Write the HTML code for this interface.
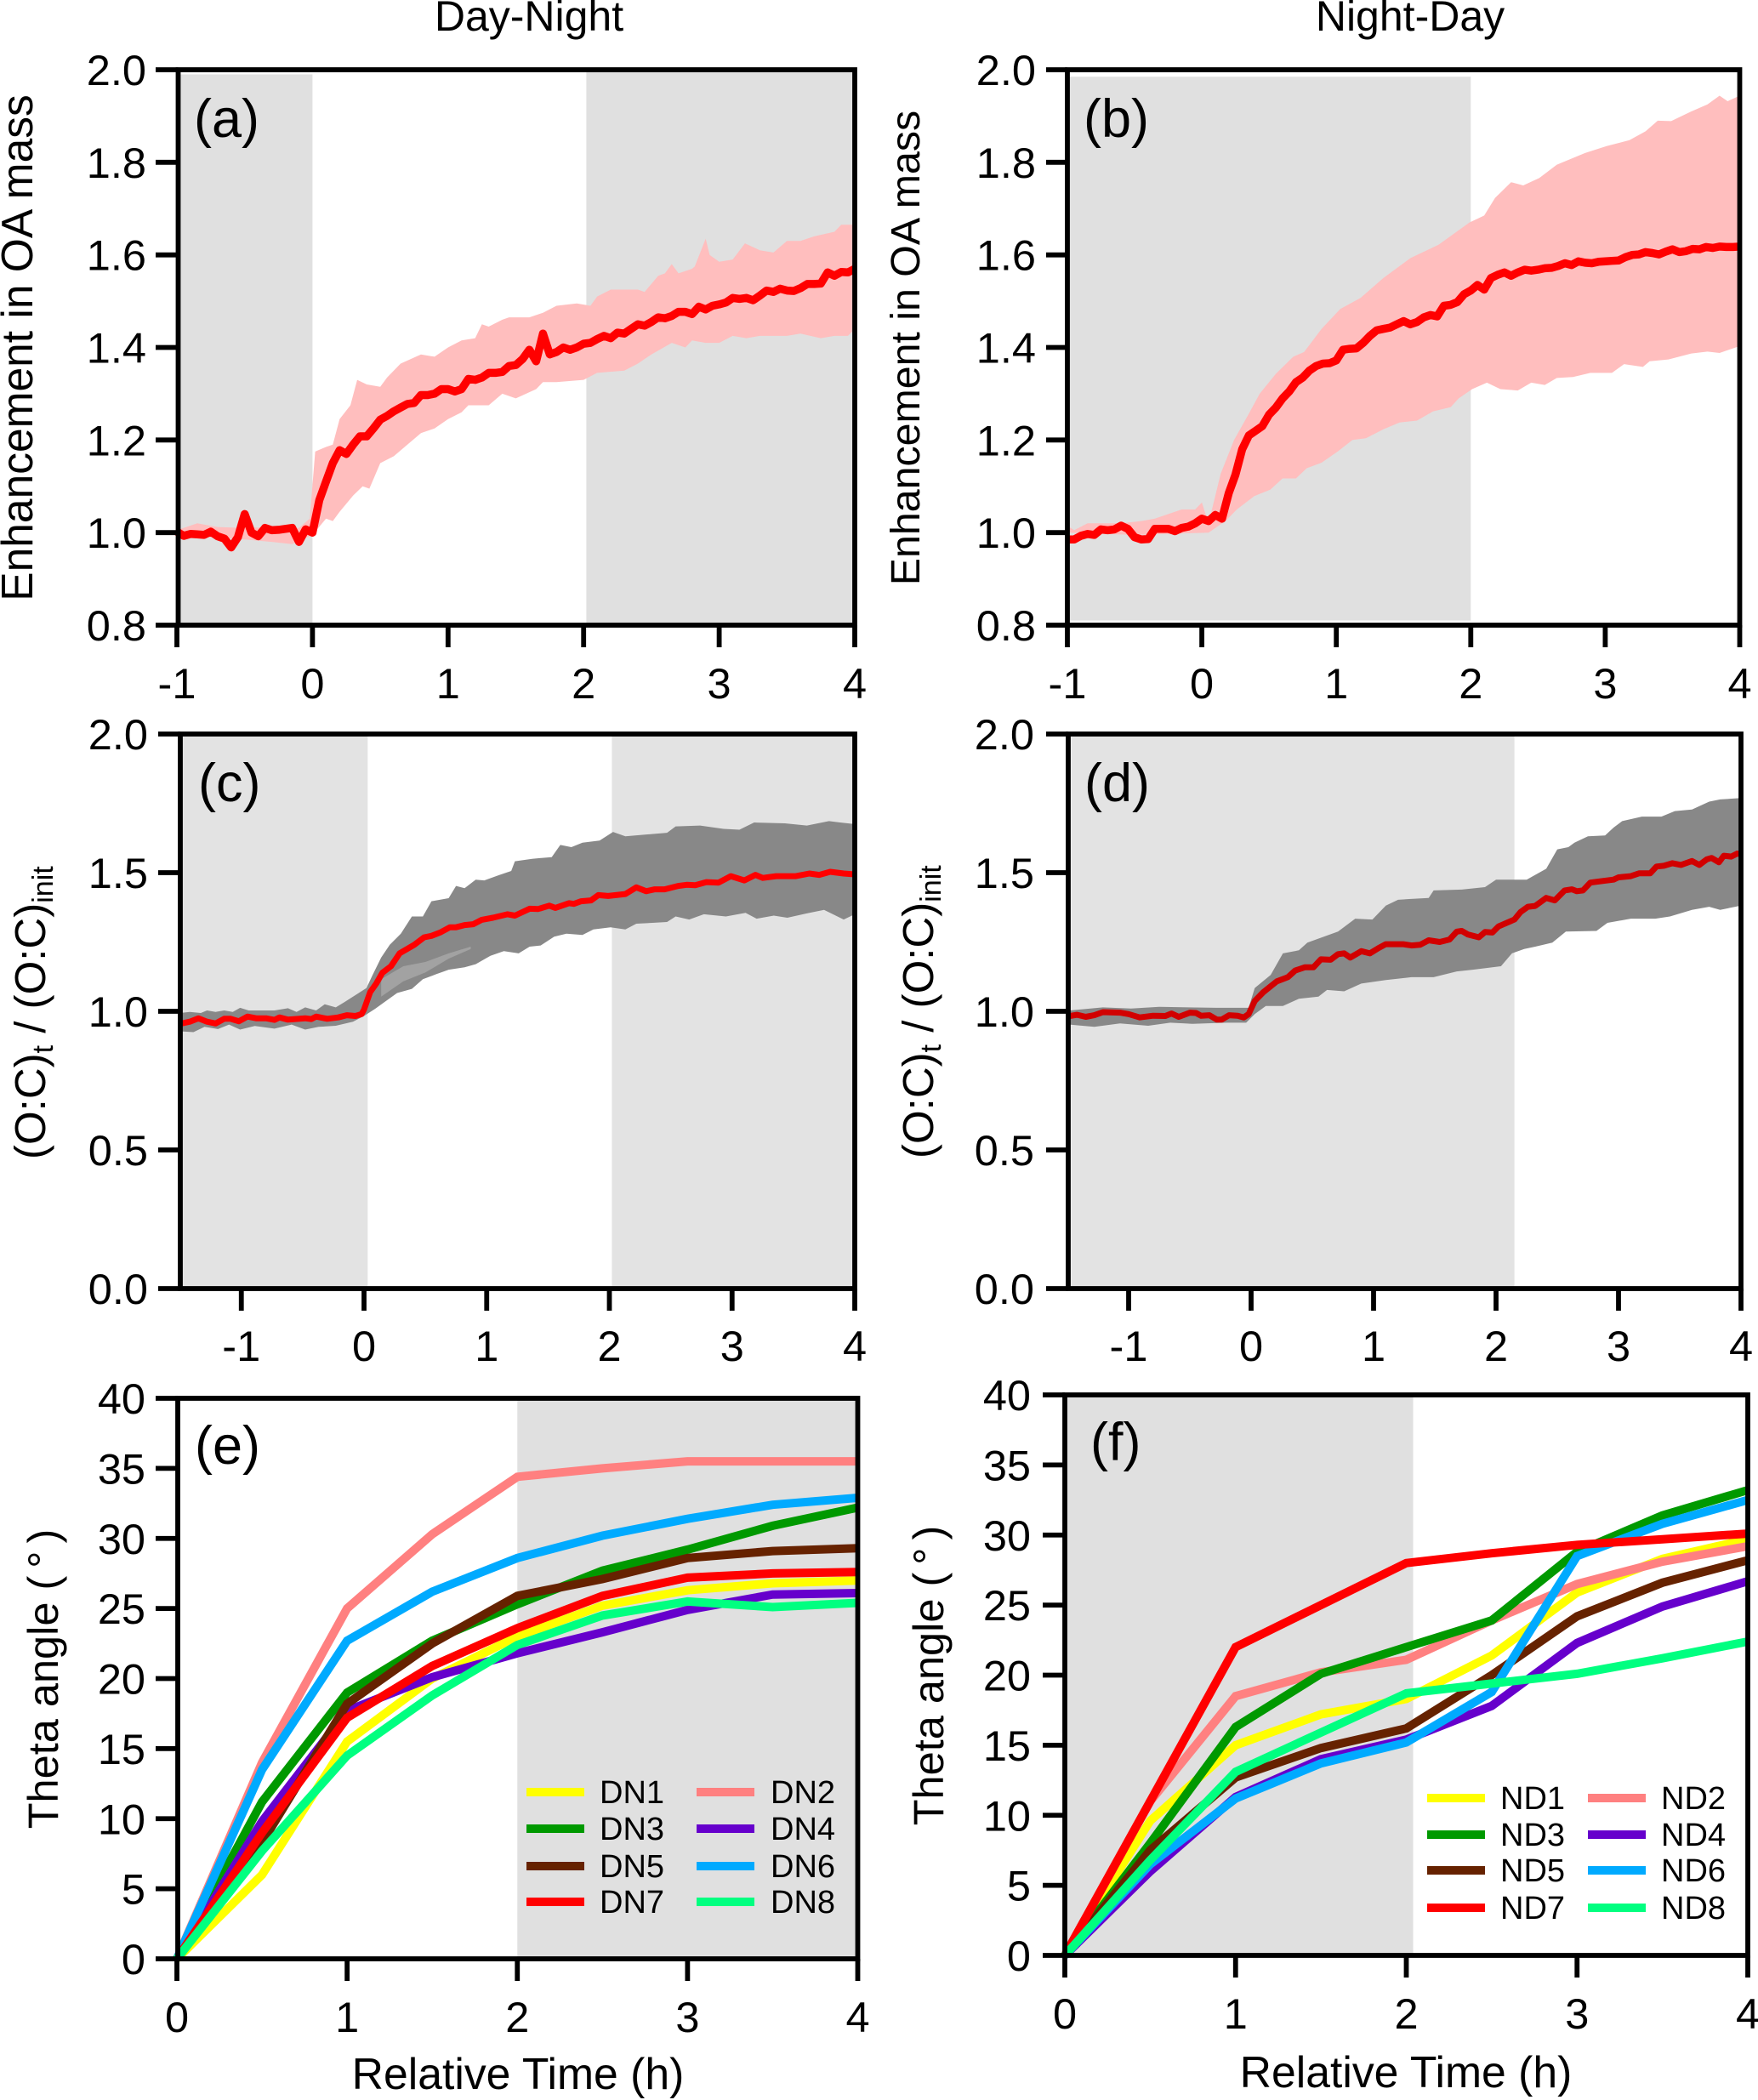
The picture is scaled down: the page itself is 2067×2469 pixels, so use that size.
<!DOCTYPE html>
<html lang="en">
<head>
<meta charset="utf-8">
<title>Day-Night and Night-Day chamber experiments</title>
<style>
html,body{margin:0;padding:0;background:#fff;}
svg{display:block;font-family:"Liberation Sans",Arial,sans-serif;fill:#000;}
</style>
</head>
<body>
<svg id="figure" xmlns="http://www.w3.org/2000/svg" width="2067" height="2469" viewBox="0 0 2067 2469">
  <rect width="2067" height="2469" fill="#fff"/>
  <g id="marks"></g>
  <g font-size="50">
    <text x="622" y="36" font-size="50" text-anchor="middle">Day-Night</text>
    <text x="1658" y="36" font-size="50" text-anchor="middle">Night-Day</text>

    <text transform="translate(38,409) rotate(-90)" text-anchor="middle" font-size="51.5">Enhancement in OA mass</text>
    <text transform="translate(1081,409) rotate(-90)" text-anchor="middle" font-size="48.3">Enhancement in OA mass</text>
    <text transform="translate(53,1363) rotate(-90)" font-size="51">(O:C)<tspan font-size="34" dy="9">t</tspan><tspan dy="-9"> / (O:C)</tspan><tspan font-size="34" dy="9">init</tspan></text>
    <text transform="translate(1097,1362) rotate(-90)" font-size="51">(O:C)<tspan font-size="34" dy="9">t</tspan><tspan dy="-9"> / (O:C)</tspan><tspan font-size="34" dy="9">init</tspan></text>
    <text transform="translate(68,1974) rotate(-90)" text-anchor="middle" font-size="50.5">Theta angle (<tspan dx="9">°</tspan><tspan dx="9">)</tspan></text>
    <text transform="translate(1109,1970) rotate(-90)" text-anchor="middle" font-size="50.5">Theta angle (<tspan dx="9">°</tspan><tspan dx="9">)</tspan></text>

    <text x="609" y="2456" text-anchor="middle" font-size="51.7">Relative Time (h)</text>
    <text x="1653" y="2454" text-anchor="middle" font-size="51.7">Relative Time (h)</text>

    <text x="228" y="161" font-size="63">(a)</text>
    <text x="1274" y="161" font-size="63">(b)</text>
    <text x="233" y="942" font-size="63">(c)</text>
    <text x="1275" y="942" font-size="63">(d)</text>
    <text x="229" y="1721" font-size="63">(e)</text>
    <text x="1282" y="1717" font-size="63">(f)</text>
  </g>
</svg>
<script>
/* ---------- Shared time grids ---------- */
const timeAB = [
-1,-.95,-.9,-.85,-.8,-.75,-.7,-.65,-.6,-.55,-.5,-.45,-.4,-.35,-.3,-.25,-.2,-.15,-.1,-.05,
0,.05,.1,.15,.2,.25,.3,.35,.4,.45,.5,.55,.6,.65,.7,.75,.8,.85,.9,.95,
1,1.05,1.1,1.15,1.2,1.25,1.3,1.35,1.4,1.45,1.5,1.55,1.6,1.65,1.7,1.75,1.8,1.85,1.9,1.95,
2,2.05,2.1,2.15,2.2,2.25,2.3,2.35,2.4,2.45,2.5,2.55,2.6,2.65,2.7,2.75,2.8,2.85,2.9,2.95,
3,3.05,3.1,3.15,3.2,3.25,3.3,3.35,3.4,3.45,3.5,3.55,3.6,3.65,3.7,3.75,3.8,3.85,3.9,3.95,4];
const timeEF = [0,.5,1,1.5,2,2.5,3,3.5,4];

/* ---------- Panel (a) ---------- */
const meanA = [
1.002,.993,.997,.996,.995,1.002,.992,.987,.968,.99,1.04,1.0,.992,1.01,1.005,1.006,1.008,1.01,.98,1.007,
1.0,1.07,1.11,1.15,1.178,1.17,1.19,1.208,1.208,1.225,1.244,1.252,1.262,1.27,1.278,1.28,1.297,1.297,1.3,1.31,
1.31,1.305,1.31,1.332,1.33,1.335,1.345,1.345,1.347,1.36,1.362,1.375,1.395,1.37,1.43,1.385,1.39,1.4,1.395,1.4,
1.408,1.41,1.418,1.425,1.42,1.432,1.43,1.44,1.45,1.447,1.455,1.465,1.463,1.468,1.477,1.477,1.472,1.488,1.482,1.49,
1.493,1.497,1.507,1.505,1.507,1.502,1.512,1.523,1.52,1.527,1.523,1.522,1.528,1.537,1.537,1.538,1.562,1.555,1.563,1.562,1.57];
const upperTimeA = [-1,-.85,-.7,-.5,-.3,-.1,-.02,.02,.1,.15,.2,.28,.33,.4,.5,.55,.65,.8,.9,1,1.1,1.2,1.25,1.3,1.4,1.45,1.6,1.7,1.8,1.95,2.05,2.1,2.2,2.4,2.45,2.55,2.6,2.65,2.7,2.8,2.82,2.9,2.93,3,3.1,3.19,3.3,3.4,3.5,3.6,3.7,3.85,3.9,4];
const upperA = [1.005,1.02,1.012,1.01,1.012,1.01,1.03,1.175,1.185,1.19,1.245,1.275,1.33,1.32,1.315,1.335,1.365,1.385,1.38,1.4,1.415,1.42,1.45,1.445,1.46,1.465,1.465,1.475,1.49,1.495,1.49,1.51,1.525,1.525,1.52,1.555,1.56,1.58,1.56,1.57,1.575,1.635,1.6,1.585,1.59,1.625,1.61,1.605,1.63,1.63,1.64,1.65,1.665,1.665];
const lowerTimeA = [-1,-.5,-.3,-.15,0,.1,.15,.2,.3,.37,.42,.5,.6,.7,.8,.9,1,1.1,1.15,1.3,1.4,1.5,1.65,1.7,1.8,2,2.1,2.3,2.4,2.5,2.65,2.75,2.8,2.9,3,3.1,3.2,3.3,3.5,3.6,3.75,3.85,3.95,4];
const lowerA = [.995,.985,.98,.975,.995,1.03,1.025,1.045,1.08,1.1,1.095,1.15,1.165,1.19,1.215,1.225,1.245,1.26,1.275,1.275,1.3,1.29,1.31,1.325,1.325,1.33,1.345,1.35,1.365,1.385,1.41,1.4,1.415,1.41,1.41,1.425,1.42,1.425,1.425,1.43,1.42,1.425,1.425,1.44];

/* ---------- Panel (b) ---------- */
const meanB = [
.985,.985,.993,.997,.995,1.007,1.005,1.007,1.015,1.008,.99,.985,.986,1.008,1.008,1.008,1.003,1.01,1.013,1.02,
1.03,1.025,1.038,1.03,1.085,1.125,1.18,1.21,1.22,1.23,1.255,1.27,1.29,1.305,1.325,1.335,1.35,1.36,1.365,1.366,
1.372,1.395,1.397,1.398,1.41,1.425,1.437,1.44,1.443,1.45,1.457,1.45,1.455,1.465,1.47,1.467,1.49,1.492,1.498,1.515,
1.523,1.535,1.525,1.55,1.557,1.562,1.555,1.562,1.568,1.566,1.568,1.571,1.572,1.576,1.582,1.578,1.586,1.583,1.582,1.585,
1.586,1.587,1.588,1.595,1.6,1.601,1.606,1.604,1.601,1.607,1.612,1.606,1.608,1.613,1.612,1.617,1.615,1.618,1.617,1.617,1.618];
const upperTimeB = [-1,-.95,-.85,-.75,-.6,-.45,-.35,-.25,-.15,-.05,0,.05,.14,.24,.35,.43,.55,.68,.76,.89,1.03,1.18,1.35,1.55,1.76,1.99,2.1,2.18,2.3,2.39,2.51,2.64,2.85,3.01,3.18,3.3,3.39,3.49,3.64,3.76,3.85,3.91,4];
const upperB = [1.015,1.005,1.02,1.02,1.02,1.025,1.03,1.04,1.05,1.05,1.065,1.02,1.127,1.2,1.257,1.3,1.343,1.38,1.39,1.44,1.483,1.507,1.55,1.593,1.622,1.67,1.685,1.723,1.757,1.75,1.766,1.795,1.82,1.835,1.848,1.867,1.89,1.889,1.91,1.925,1.944,1.932,1.944];
const lowerTimeB = [-1,-.5,.05,.18,.26,.39,.51,.6,.7,.78,.89,1.01,1.12,1.22,1.35,1.47,1.6,1.72,1.85,1.91,2.01,2.12,2.22,2.35,2.45,2.55,2.64,2.76,2.89,3.05,3.14,3.28,3.33,3.47,3.64,3.76,3.85,4];
const lowerB = [1,.995,1,1.026,1.05,1.079,1.093,1.117,1.117,1.139,1.151,1.175,1.2,1.204,1.223,1.238,1.242,1.262,1.271,1.29,1.31,1.324,1.31,1.307,1.324,1.319,1.334,1.336,1.345,1.345,1.364,1.358,1.37,1.374,1.387,1.391,1.388,1.403];

/* ---------- Panel (c) ---------- */
const meanTimeC = [-1.5,-1.42,-1.35,-1.28,-1.21,-1.14,-1.09,-1.02,-.95,-.88,-.8,-.73,-.69,-.62,-.48,-.43,-.39,-.3,-.21,-.14,-.07,-.02,0,.05,.1,.15,.22,.29,.41,.49,.55,.62,.7,.75,.82,.89,.96,1.05,1.17,1.23,1.35,1.42,1.51,1.56,1.67,1.71,1.77,1.85,1.91,1.99,2.13,2.22,2.3,2.37,2.45,2.56,2.63,2.7,2.79,2.89,2.99,3.1,3.19,3.25,3.36,3.52,3.63,3.71,3.8,3.91,4];
const meanC = [.955,.9625,.975,.9625,.956,.973,.973,.964,.981,.975,.975,.969,.978,.97,.975,.972,.981,.973,.978,.986,.983,.99,1.006,1.069,1.1,1.139,1.1625,1.209,1.24,1.267,1.272,1.284,1.303,1.303,1.311,1.314,1.33,1.3375,1.35,1.345,1.37,1.369,1.381,1.373,1.39,1.3875,1.397,1.4,1.419,1.416,1.423,1.447,1.433,1.44,1.44,1.452,1.456,1.455,1.466,1.464,1.4875,1.472,1.492,1.481,1.4875,1.4875,1.497,1.492,1.503,1.497,1.494];
const upperTimeC = [-1.5,-1.42,-1.33,-1.28,-1.21,-1.14,-1.07,-1.01,-.94,-.82,-.73,-.62,-.55,-.48,-.39,-.32,-.23,-.16,-.05,.02,.07,.14,.21,.3,.39,.48,.55,.69,.75,.82,.91,.98,1.1,1.2,1.23,1.37,1.53,1.6,1.69,1.78,1.92,2.03,2.13,2.47,2.54,2.74,2.93,3.06,3.18,3.43,3.61,3.79,3.88,4];
const upperC = [.994,.998,.994,1.003,.998,1.003,.998,1.0125,1.003,1.003,1.003,1.011,.998,1.014,1.003,1.025,1.014,1.033,1.064,1.084,1.131,1.194,1.24,1.28,1.342,1.342,1.397,1.408,1.452,1.444,1.475,1.472,1.491,1.506,1.541,1.55,1.556,1.6,1.592,1.608,1.616,1.647,1.631,1.644,1.667,1.67,1.658,1.655,1.681,1.678,1.67,1.686,1.681,1.675];
const lowerTimeC = [-1.5,-1.39,-1.3,-1.19,-1.1,-1.01,-.89,-.73,-.59,-.48,-.37,-.23,-.09,0,.09,.18,.27,.39,.48,.59,.69,.82,.91,1.03,1.14,1.26,1.35,1.44,1.55,1.65,1.78,1.87,2.01,2.13,2.22,2.35,2.47,2.54,2.65,2.77,2.95,3.11,3.2,3.34,3.45,3.61,3.75,3.91,4];
const lowerC = [.928,.925,.944,.936,.952,.934,.947,.9375,.952,.934,.944,.948,.9625,.983,1.009,1.0375,1.066,1.081,1.116,1.134,1.15,1.159,1.17,1.2,1.217,1.209,1.233,1.2375,1.269,1.28,1.275,1.295,1.303,1.295,1.316,1.319,1.322,1.342,1.331,1.35,1.342,1.355,1.334,1.345,1.3375,1.353,1.366,1.331,1.35];
const sliverTimeC = [.14,.32,.5,.69,.87];
const sliverUpperC = [1.116,1.1625,1.178,1.209,1.233];
const sliverLowerC = [1.053,1.108,1.14,1.19,1.225];

/* ---------- Panel (d) ---------- */
const meanTimeD = [-1.48,-1.42,-1.35,-1.28,-1.21,-1.07,-1,-.91,-.8,-.7,-.65,-.59,-.5,-.45,-.41,-.34,-.28,-.24,-.18,-.11,-.06,-.02,.03,.1,.21,.3,.36,.44,.51,.57,.65,.71,.76,.81,.9,.97,1.04,1.1,1.24,1.31,1.38,1.45,1.54,1.62,1.68,1.72,1.77,1.86,1.91,1.97,2.02,2.15,2.2,2.26,2.32,2.41,2.48,2.56,2.62,2.66,2.71,2.77,2.87,2.96,3,3.1,3.17,3.26,3.31,3.37,3.44,3.51,3.6,3.66,3.72,3.76,3.82,3.86,3.92,3.97,4];
const meanD = [.983,.9875,.98,.986,.997,.995,.99,.978,.984,.983,.992,.98,.995,.994,.984,.986,.97,.97,.986,.984,.978,.99,1.0375,1.069,1.108,1.123,1.147,1.159,1.159,1.1875,1.186,1.206,1.209,1.194,1.217,1.209,1.228,1.242,1.242,1.2375,1.24,1.256,1.25,1.259,1.2875,1.29,1.277,1.267,1.286,1.284,1.306,1.331,1.358,1.377,1.38,1.409,1.4,1.436,1.44,1.433,1.436,1.464,1.47,1.475,1.483,1.4875,1.498,1.498,1.522,1.525,1.534,1.528,1.542,1.528,1.548,1.553,1.5375,1.561,1.558,1.569,1.566];
const upperTimeD = [-1.48,-1.21,-.98,-.75,-.29,-.02,.03,.16,.26,.39,.46,.58,.71,.85,.99,1.1,1.2,1.29,1.45,1.49,1.72,1.91,2,2.13,2.25,2.41,2.5,2.59,2.64,2.75,2.89,2.96,3.03,3.19,3.35,3.46,3.6,3.74,3.83,4];
const upperD = [1.003,1.014,1.01,1.016,1.0125,1.0125,1.084,1.131,1.209,1.22,1.248,1.267,1.2875,1.334,1.331,1.381,1.402,1.405,1.409,1.436,1.439,1.448,1.475,1.475,1.475,1.514,1.584,1.592,1.608,1.631,1.634,1.6625,1.686,1.702,1.702,1.722,1.728,1.756,1.764,1.769];
const lowerTimeD = [-1.48,-1.28,-1.07,-.84,-.66,-.48,-.2,-.04,.03,.12,.26,.39,.55,.62,.76,.9,1.1,1.31,1.49,1.68,1.81,2.04,2.13,2.23,2.32,2.46,2.57,2.82,2.91,3.1,3.3,3.42,3.6,3.74,3.83,4];
const lowerD = [.952,.944,.956,.948,.959,.955,.959,.959,.99,1.019,1.019,1.045,1.053,1.077,1.072,1.1,1.1125,1.123,1.123,1.144,1.15,1.1625,1.209,1.225,1.233,1.248,1.2875,1.29,1.319,1.334,1.334,1.342,1.366,1.377,1.366,1.381];

/* ---------- Panel (e): theta angle, Day-Night ---------- */
const dn1 = [0,6,15.5,20,23,25.2,26.3,26.8,27];
const dn2 = [0,14,25,30.3,34.4,35,35.5,35.5,35.5];
const dn3 = [0,11.2,19,22.7,25.3,27.7,29.2,30.9,32.2];
const dn4 = [0,9.8,17.7,20.1,21.8,23.3,24.9,26,26.1];
const dn5 = [0,8.3,18.2,22.5,25.9,27.1,28.6,29.1,29.3];
const dn6 = [0,13.5,22.7,26.2,28.6,30.2,31.4,32.4,32.9];
const dn7 = [0,9,17.2,20.9,23.6,25.9,27.2,27.5,27.6];
const dn8 = [0,7.7,14.5,18.8,22.4,24.5,25.5,25.1,25.4];

/* ---------- Panel (f): theta angle, Night-Day ---------- */
const nd1 = [0,9.6,15,17.2,18.3,21.4,25.9,28.3,29.7];
const nd2 = [0,11,18.5,20.2,21.1,23.9,26.5,28.1,29.2];
const nd3 = [0,8,16.3,20.1,22,23.9,28.8,31.4,33.2];
const nd4 = [0,6,11.3,14,15.4,17.8,22.3,24.9,26.7];
const nd5 = [0,7.5,12.7,14.8,16.2,20,24.2,26.6,28.2];
const nd6 = [0,6.5,11.2,13.7,15.2,18.8,28.5,30.8,32.5];
const nd7 = [0,11,22,25,28,28.7,29.3,29.7,30.1];
const nd8 = [0,6.8,13.1,15.9,18.7,19.4,20.1,21.2,22.4];

/* ---------- Tick labels ---------- */
const xTicksAB = [-1,0,1,2,3,4];
const xTicksCD = [-1,0,1,2,3,4];
const xTicksEF = [0,1,2,3,4];
const yTicksAB = ['0.8','1.0','1.2','1.4','1.6','1.8','2.0'];
const yTicksCD = ['0.0','0.5','1.0','1.5','2.0'];
const yTicksEF = ['0','5','10','15','20','25','30','35','40'];

const seriesColors = ['#ffff00','#ff8080','#009900','#6600cc','#662200','#00aaff','#ff0000','#00ff80'];

/* ---------- Drawing ---------- */
const NS = 'http://www.w3.org/2000/svg';
const root = document.getElementById('marks');

function make(tag, parent, attrs) {
  const node = document.createElementNS(NS, tag);
  for (const k in attrs) node.setAttribute(k, attrs[k]);
  parent.appendChild(node);
  return node;
}
function scale(d0, d1, r0, r1) {
  return v => r0 + (v - d0) * (r1 - r0) / (d1 - d0);
}
function linePath(xs, ys, sx, sy) {
  return ys.map((v, i) => (i ? 'L' : 'M') + sx(xs[i]).toFixed(1) + ' ' + sy(v).toFixed(1)).join('');
}
function bandPath(ux, uy, lx, ly, sx, sy) {
  const up = uy.map((v, i) => (i ? 'L' : 'M') + sx(ux[i]).toFixed(1) + ' ' + sy(v).toFixed(1)).join('');
  let low = '';
  for (let i = ly.length - 1; i >= 0; i--) low += 'L' + sx(lx[i]).toFixed(1) + ' ' + sy(ly[i]).toFixed(1);
  return up + low + 'Z';
}

function drawFrame(p) {
  const g = make('g', root, {});
  
  
  const sx = scale(p.xd[0], p.xd[1], p.xr[0], p.xr[1]);
  const sy = scale(p.yd[0], p.yd[1], p.yr[0], p.yr[1]);

  p.shades.forEach(s => {
    const r = make('rect', g, {
      x: sx(s[0]), y: sy(s[3]), width: sx(s[1]) - sx(s[0]), height: sy(s[2]) - sy(s[3]), fill: p.shadeColor
    });
    
    
  });

  if (p.band) {
    const b = make('path', g, { d: bandPath(p.band[0], p.band[1], p.band[2], p.band[3], sx, sy), fill: p.bandColor });
    
    
  }
  if (p.sliver) {
    const b = make('path', g, { d: bandPath(p.sliver[0], p.sliver[1], p.sliver[0], p.sliver[2], sx, sy), fill: '#a2a2a2' });
    
    
  }
  if (p.mean) {
    const l = make('path', g, {
      d: linePath(p.mean[0], p.mean[1], sx, sy), fill: 'none', stroke: p.meanColor,
      'stroke-width': p.meanWidth, 'stroke-linejoin': 'round'
    });
    
    
  }
  if (p.series) {
    p.series.forEach((vals, i) => {
      const l = make('path', g, {
        d: linePath(timeEF, vals, sx, sy), fill: 'none', stroke: seriesColors[i],
        'stroke-width': 10, 'stroke-linejoin': 'miter'
      });
      
      
    });
    p.series.forEach((vals, i) => {
      const col = i % 2, row = (i - col) / 2;
      const lx = p.legendX[col], ly = p.legendY[row];
      const sw = make('line', g, { x1: lx, x2: lx + 68, y1: ly, y2: ly, stroke: seriesColors[i], 'stroke-width': 10 });
      
      
      const t = make('text', g, { x: p.legendLabelX[col], y: ly + 13, 'font-size': 38 });
      
      
      t.textContent = p.prefix + (i + 1);
    });
  }

  /* spines */
  const L = p.frame[0], R = p.frame[1], T = p.yr[1], B = p.yr[0];
  const sp = make('rect', g, { x: L, y: T, width: R - L, height: B - T, fill: 'none', stroke: '#000', 'stroke-width': 5.8 });
  
  

  /* y ticks */
  p.yTicks.forEach(lbl => {
    const y = sy(parseFloat(lbl));
    const tk = make('line', g, { x1: p.tickLeft, x2: L, y1: y, y2: y, stroke: '#000', 'stroke-width': 5.8 });
    
    
    const t = make('text', g, { x: p.yLabelX, y: y + 18, 'text-anchor': 'end', 'font-size': 50.5 });
    
    
    t.textContent = lbl;
  });
  /* x ticks */
  p.xTicks.forEach(v => {
    const x = sx(v);
    const tk = make('line', g, { x1: x, x2: x, y1: B, y2: B + 26, stroke: '#000', 'stroke-width': 5.8 });
    
    
    const t = make('text', g, { x: x, y: p.xLabelY, 'text-anchor': 'middle', 'font-size': 50.5 });
    
    
    t.textContent = String(v);
  });
}

const grey = '#e0e0e0';
const greyLight = '#e3e3e3';
const pink = '#ffbebe';
const ribbon = '#888888';

drawFrame({ id:'a', xd:[-1,4], xr:[208,1005], yd:[.8,2], yr:[735,82], frame:[209.5,1005],
  shades:[[-.99,0,.8,1.99],[2.02,4,.8,1.995]], shadeColor:grey,
  band:[upperTimeA,upperA,lowerTimeA,lowerA], bandColor:pink, mean:[timeAB,meanA], meanColor:'#ff0000', meanWidth:9.5,
  yTicks:yTicksAB, xTicks:xTicksAB, tickLeft:183, yLabelX:172, xLabelY:821 });

drawFrame({ id:'b', xd:[-1,4], xr:[1255,2045.5], yd:[.8,2], yr:[735,82], frame:[1255,2045.5],
  shades:[[-1,2,.81,1.985]], shadeColor:grey,
  band:[upperTimeB,upperB,lowerTimeB,lowerB], bandColor:pink, mean:[timeAB,meanB], meanColor:'#ff0000', meanWidth:9.5,
  yTicks:yTicksAB, xTicks:xTicksAB, tickLeft:1230, yLabelX:1218, xLabelY:821 });

drawFrame({ id:'c', xd:[0,4], xr:[428,1005], yd:[0,2], yr:[1515,863], frame:[212,1005],
  shades:[[-1.48,.03,0,2],[2.02,4,0,2]], shadeColor:greyLight,
  band:[upperTimeC,upperC,lowerTimeC,lowerC], bandColor:ribbon, sliver:[sliverTimeC,sliverUpperC,sliverLowerC],
  mean:[meanTimeC,meanC], meanColor:'#ff0000', meanWidth:7,
  yTicks:yTicksCD, xTicks:xTicksCD, tickLeft:186, yLabelX:174, xLabelY:1600 });

drawFrame({ id:'d', xd:[0,4], xr:[1471,2047], yd:[0,2], yr:[1515,863], frame:[1256,2047],
  shades:[[-1.47,2.15,0,2]], shadeColor:greyLight,
  band:[upperTimeD,upperD,lowerTimeD,lowerD], bandColor:ribbon, mean:[meanTimeD,meanD], meanColor:'#d20000', meanWidth:7,
  yTicks:yTicksCD, xTicks:xTicksCD, tickLeft:1230, yLabelX:1216, xLabelY:1600 });

drawFrame({ id:'e', xd:[0,4], xr:[208,1008.5], yd:[0,40], yr:[2303,1644], frame:[209,1008.5],
  shades:[[2,4,0,40]], shadeColor:grey,
  series:[dn1,dn2,dn3,dn4,dn5,dn6,dn7,dn8], prefix:'DN',
  legendX:[619,819], legendY:[2107,2150,2194,2236], legendLabelX:[705,906],
  yTicks:yTicksEF, xTicks:xTicksEF, tickLeft:183, yLabelX:171, xLabelY:2389 });

drawFrame({ id:'f', xd:[0,4], xr:[1252,2055], yd:[0,40], yr:[2299,1640], frame:[1252,2055],
  shades:[[0,2.04,0,40]], shadeColor:grey,
  series:[nd1,nd2,nd3,nd4,nd5,nd6,nd7,nd8], prefix:'ND',
  legendX:[1678,1867], legendY:[2114,2157,2199,2243], legendLabelX:[1764,1953],
  yTicks:yTicksEF, xTicks:xTicksEF, tickLeft:1226, yLabelX:1212, xLabelY:2385 });
</script>
</body>
</html>
